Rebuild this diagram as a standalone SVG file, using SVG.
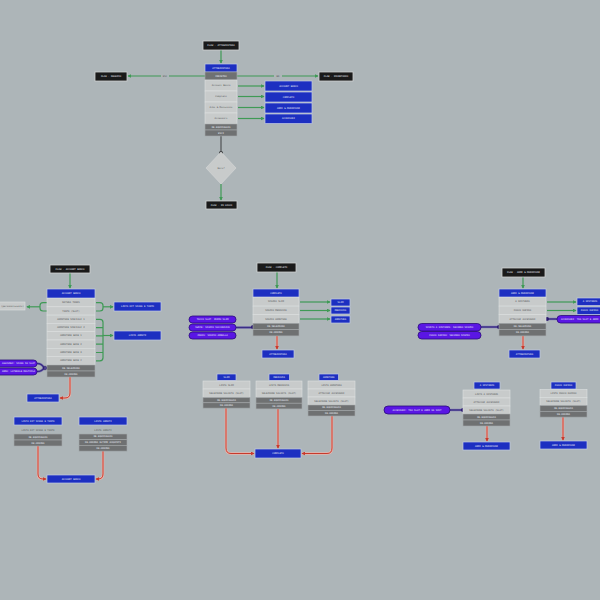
<svg xmlns="http://www.w3.org/2000/svg" width="600" height="600" viewBox="0 0 600 600">
<defs>
<marker id="ag" viewBox="0 0 6 6" refX="5" refY="3" markerWidth="4" markerHeight="4" markerUnits="userSpaceOnUse" orient="auto"><path d="M0,0 L6,3 L0,6 z" fill="#3f9a55"/></marker>
<marker id="ar" viewBox="0 0 6 6" refX="5" refY="3" markerWidth="4" markerHeight="4" markerUnits="userSpaceOnUse" orient="auto"><path d="M0,0 L6,3 L0,6 z" fill="#c83a2c"/></marker>
<style>
.flow{fill:#1a1a1a;stroke:#cfd2d3;stroke-width:0.8}
.blue{fill:#1d2fc1;stroke:#c0c9e4;stroke-width:0.7}
.lt{fill:#c8cbcb;stroke:#dde0e0;stroke-width:0.6}
.dk{fill:#6f7172;stroke:#a4a8aa;stroke-width:0.6}
.pill{fill:#5a16e4;stroke:#2a0c78;stroke-width:0.8}
.t{font-family:"DejaVu Sans Mono","Liberation Mono",monospace;font-size:2.8px;text-anchor:middle;dominant-baseline:central}
.s{font-size:2.4px}
.w{fill:#e9edf7}
.d{fill:#545657}
.g{fill:none;stroke:#3f9a55;stroke-width:1.2;marker-end:url(#ag)}
.g2{fill:none;stroke:#3f9a55;stroke-width:1.2}
.rh{fill:none;stroke:#e8b4ac;stroke-width:2.4}
.r{fill:none;stroke:#c83a2c;stroke-width:1;marker-end:url(#ar)}
.ph{fill:none;stroke:#8c88b8;stroke-width:2.6}
.p{fill:none;stroke:#3a2d86;stroke-width:1.5}
.dot{fill:#2c1a6e}
.lbl{fill:#adb5b8}
</style>
<path id="r1" d="M70,377 V393 Q70,398 65,398 H60"/>
<path id="r2" d="M38,446 V474 Q38,479 43,479 H46"/>
<path id="r3" d="M103,451 V474 Q103,479 98,479 H96"/>
<path id="r4" d="M277,336 V349"/>
<path id="r5" d="M226,408 V448 Q226,453.5 231,453.5 H254"/>
<path id="r6" d="M278,409 V448"/>
<path id="r7" d="M332,416 V448 Q332,453.5 327,453.5 H302"/>
<path id="r8" d="M523,336 V349"/>
<path id="r9" d="M487,426 V441"/>
<path id="r10" d="M563,417 V440"/>
</defs>
<rect width="600" height="600" fill="#adb5b8"/>

<g id="connectors">
<path class="g" d="M221,50 V63"/>
<path class="g" d="M205,76 H128"/>
<path class="g" d="M237,76 H318"/>
<rect class="lbl" x="161" y="73.5" width="8" height="5"/>
<text class="t s d" x="165" y="76">ESC</text>
<rect class="lbl" x="274" y="73.5" width="8" height="5"/>
<text class="t s d" x="278" y="76">BK</text>
<path class="g" d="M238,86 H264"/>
<path class="g" d="M238,96.5 H264"/>
<path class="g" d="M238,107.5 H264"/>
<path class="g" d="M238,118.5 H264"/>
<path d="M221,136 V152" stroke="#505254" stroke-width="1.2" fill="none"/>
<circle cx="221" cy="153" r="2" fill="#3c3e40"/>
<path class="g" d="M221,184 V200"/>

<path class="g" d="M70,273 V288"/>
<path class="g2" d="M96,302.6 H100 Q103,302.6 103,305.6 V308 Q103,311 100,311 H96"/>
<path class="g" d="M103,306.8 H113"/>
<path class="g2" d="M96,319.3 H100 Q103,319.3 103,322.3 V357.8 Q103,360.8 100,360.8 H96 M96,327.6 H103 M96,335.9 H103 M96,344.2 H103 M96,352.5 H103"/>
<path class="g" d="M103,335.5 H113"/>
<path class="g2" d="M47,302.6 H43 Q40,302.6 40,305.6 V308 Q40,311 43,311 H47"/>
<path class="g" d="M40,306.8 H27"/>

<path class="g" d="M277,272 V288"/>
<path class="g" d="M300,302 H330"/>
<path class="g" d="M300,310.5 H330"/>
<path class="g" d="M300,319 H330"/>

<path class="g" d="M523,277 V288"/>
<path class="g" d="M547,302 H576"/>
<path class="g" d="M547,310.5 H576"/>

<use href="#r1" class="rh"/><use href="#r1" class="r"/>
<use href="#r2" class="rh"/><use href="#r2" class="r"/>
<use href="#r3" class="rh"/><use href="#r3" class="r"/>
<use href="#r4" class="rh"/><use href="#r4" class="r"/>
<use href="#r5" class="rh"/><use href="#r5" class="r"/>
<use href="#r6" class="rh"/><use href="#r6" class="r"/>
<use href="#r7" class="rh"/><use href="#r7" class="r"/>
<use href="#r8" class="rh"/><use href="#r8" class="r"/>
<use href="#r9" class="rh"/><use href="#r9" class="r"/>
<use href="#r10" class="rh"/><use href="#r10" class="r"/>

<path class="ph" d="M37,363.5 Q42,363.5 44,368 M37,371.5 Q42,371.5 44,368 H47"/>
<path class="p" d="M37,363.5 Q42,363.5 44,368 M37,371.5 Q42,371.5 44,368 H47"/>
<circle cx="45" cy="368" r="1.8" fill="none" stroke="#2c1a6e" stroke-width="0.8"/>
<path class="ph" d="M236,327.5 H252"/><path class="p" d="M236,327.5 H252"/>
<circle class="dot" cx="253" cy="327" r="2"/>
<path class="ph" d="M547,319 H557"/><path class="p" d="M547,319 H557"/>
<circle class="dot" cx="547" cy="319" r="2"/>
<path class="ph" d="M481,327 H498"/><path class="p" d="M481,327 H498"/>
<circle class="dot" cx="499" cy="327" r="2"/>
<path class="ph" d="M450,410 H462"/><path class="p" d="M450,410 H462"/>
<circle class="dot" cx="463" cy="410" r="2"/>
</g>

<!-- top -->
<g id="flow-attrezzatura"><rect class="flow" x="203" y="41" width="36" height="9"/><text class="t s w" x="221" y="45.5">FLOW · ATTREZZATURA</text></g>
<g id="flow-negozio"><rect class="flow" x="95" y="72" width="32" height="9"/><text class="t s w" x="111" y="76.5">FLOW · NEGOZIO</text></g>
<g id="flow-inventario"><rect class="flow" x="319" y="72" width="34" height="9"/><text class="t s w" x="336" y="76.5">FLOW · INVENTARIO</text></g>
<g id="node-attrezzatura">
<rect class="blue" x="205" y="64" width="32" height="8"/><text class="t s w" x="221" y="68">ATTREZZATURA</text>
<rect class="dk" x="205" y="72" width="32" height="8"/><text class="t s w" x="221" y="76">INDIETRO</text>
<rect class="lt" x="205" y="80" width="32" height="11"/><text class="t s d" x="221" y="85.5">Account Banco</text>
<rect class="lt" x="205" y="91" width="32" height="11"/><text class="t s d" x="221" y="96.5">Completo</text>
<rect class="lt" x="205" y="102" width="32" height="11"/><text class="t s d" x="221" y="107.5">Armi &amp; Munizioni</text>
<rect class="lt" x="205" y="113" width="32" height="11"/><text class="t s d" x="221" y="118.5">Accessori</text>
<rect class="dk" x="205" y="124" width="32" height="6"/><text class="t s w" x="221" y="127">RE-EQUIPAGGIA</text>
<rect class="dk" x="205" y="130" width="32" height="6"/><text class="t s w" x="221" y="133">ESCI</text>
</g>
<g id="t-account"><rect class="blue" x="265" y="81" width="47" height="10"/><text class="t s w" x="288.5" y="86">ACCOUNT BANCO</text></g>
<g id="t-completo"><rect class="blue" x="265" y="92" width="47" height="10"/><text class="t s w" x="288.5" y="97">COMPLETO</text></g>
<g id="t-armi"><rect class="blue" x="265" y="103" width="47" height="10"/><text class="t s w" x="288.5" y="108">ARMI &amp; MUNIZIONI</text></g>
<g id="t-accessori"><rect class="blue" x="265" y="114" width="47" height="9.5"/><text class="t s w" x="288.5" y="118.8">ACCESSORI</text></g>
<g id="decision"><polygon points="221,152 236,168 221,184 206,168" fill="#c8cbcb" stroke="#d6d9d9" stroke-width="0.6"/><text class="t s d" x="221" y="168">Esci?</text></g>
<g id="flow-gioco"><rect class="flow" x="206" y="201" width="31" height="8"/><text class="t s w" x="221.5" y="205">FLOW · IN GIOCO</text></g>

<!-- left -->
<g id="flow-account"><rect class="flow" x="50" y="265" width="40" height="8"/><text class="t s w" x="70" y="269">FLOW · ACCOUNT BANCO</text></g>
<g id="node-account">
<rect class="blue" x="47" y="289" width="48" height="9"/><text class="t s w" x="71" y="293.5">ACCOUNT BANCO</text>
<rect class="lt" x="47" y="298.5" width="48" height="8.3"/><text class="t s d" x="71" y="302.6">NATURA TANKS</text>
<rect class="lt" x="47" y="306.8" width="48" height="8.3"/><text class="t s d" x="71" y="311">TANTO (SLOT)</text>
<rect class="lt" x="47" y="315.1" width="48" height="8.3"/><text class="t s d" x="71" y="319.3">ARMATURE SPECIALI 1</text>
<rect class="lt" x="47" y="323.4" width="48" height="8.3"/><text class="t s d" x="71" y="327.6">ARMATURE SPECIALI 2</text>
<rect class="lt" x="47" y="331.7" width="48" height="8.3"/><text class="t s d" x="71" y="335.9">ARMATURE BASE 1</text>
<rect class="lt" x="47" y="340" width="48" height="8.3"/><text class="t s d" x="71" y="344.2">ARMATURE BASE 2</text>
<rect class="lt" x="47" y="348.3" width="48" height="8.3"/><text class="t s d" x="71" y="352.5">ARMATURE BASE 3</text>
<rect class="lt" x="47" y="356.6" width="48" height="8.3"/><text class="t s d" x="71" y="360.8">ARMATURE BASE 4</text>
<rect class="dk" x="47" y="365" width="48" height="6"/><text class="t s w" x="71" y="368">RE-SELEZIONA</text>
<rect class="dk" x="47" y="371" width="48" height="6"/><text class="t s w" x="71" y="374">RE-ORDINA</text>
</g>
<g id="label-personal"><rect class="lt" x="-4" y="302" width="29" height="8"/><text class="t s d" x="24" y="306" style="text-anchor:end">(personalizzati)</text></g>
<g id="lista-kit"><rect class="blue" x="114" y="302" width="47" height="9"/><text class="t s w" x="137.5" y="306.5">LISTA KIT SPADA E TANTO</text></g>
<g id="lista-armati"><rect class="blue" x="114" y="331" width="47" height="9"/><text class="t s w" x="137.5" y="335.5">LISTA ARMATI</text></g>
<g id="pills-left">
<rect class="pill" x="-6" y="360" width="43" height="7" rx="3.5"/><text class="t s w" x="18.5" y="363.5">AGGIUNGI: SPADA SU SLOT</text>
<rect class="pill" x="-6" y="368" width="43" height="7" rx="3.5"/><text class="t s w" x="18.5" y="371.5">ARMA: LATERALE MULTIPLA</text>
</g>
<g id="l-attrezzatura"><rect class="blue" x="27" y="394" width="32" height="8"/><text class="t s w" x="43" y="398">ATTREZZATURA</text></g>
<g id="node-lista-kit">
<rect class="blue" x="14" y="417" width="48" height="8"/><text class="t s w" x="38" y="421">LISTA KIT SPADA E TANTO</text>
<text class="t s d" x="38" y="430">LISTA KIT SPADA E TANTO</text>
<rect class="dk" x="14" y="434" width="48" height="6"/><text class="t s w" x="38" y="437">RE-EQUIPAGGIA</text>
<rect class="dk" x="14" y="440" width="48" height="6"/><text class="t s w" x="38" y="443">RE-ORDINA</text>
</g>
<g id="node-lista-armati">
<rect class="blue" x="79" y="417" width="48" height="8"/><text class="t s w" x="103" y="421">LISTA ARMATI</text>
<text class="t s d" x="103" y="430.5">LISTA ARMATI</text>
<rect class="dk" x="79" y="434" width="48" height="5.7"/><text class="t s w" x="103" y="436.9">RE-EQUIPAGGIA</text>
<rect class="dk" x="79" y="439.7" width="48" height="5.7"/><text class="t s w" x="103" y="442.6">RE-ORDINA ULTIMI ACQUISTI</text>
<rect class="dk" x="79" y="445.4" width="48" height="5.7"/><text class="t s w" x="103" y="448.3">RE-ORDINA</text>
</g>
<g id="l-account"><rect class="blue" x="47" y="475" width="48" height="8"/><text class="t s w" x="71" y="479">ACCOUNT BANCO</text></g>

<!-- middle -->
<g id="flow-completo"><rect class="flow" x="257" y="263" width="39" height="9"/><text class="t s w" x="276.5" y="267.5">FLOW · COMPLETO</text></g>
<g id="node-completo">
<rect class="blue" x="253" y="289" width="46" height="8"/><text class="t s w" x="276" y="293">COMPLETO</text>
<rect class="lt" x="253" y="297.5" width="46" height="8.6"/><text class="t s d" x="276" y="301.8">SPAZIO SLIM</text>
<rect class="lt" x="253" y="306.1" width="46" height="8.6"/><text class="t s d" x="276" y="310.4">SPAZIO MEDIOVIA</text>
<rect class="lt" x="253" y="314.7" width="46" height="8.6"/><text class="t s d" x="276" y="319">SPAZIO ARMATURA</text>
<rect class="dk" x="253" y="323.3" width="46" height="6.3"/><text class="t s w" x="276" y="326.5">RE-SELEZIONA</text>
<rect class="dk" x="253" y="329.6" width="46" height="6.3"/><text class="t s w" x="276" y="332.8">RE-ORDINA</text>
</g>
<g id="m-slim"><rect class="blue" x="331" y="299" width="19" height="7"/><text class="t s w" x="340.5" y="302.5">SLIM</text></g>
<g id="m-mediovia"><rect class="blue" x="331" y="307" width="19" height="7"/><text class="t s w" x="340.5" y="310.5">MEDIOVIA</text></g>
<g id="m-armatura"><rect class="blue" x="331" y="316" width="19" height="7"/><text class="t s w" x="340.5" y="319.5">ARMATURA</text></g>
<g id="pills-mid">
<rect class="pill" x="189" y="316" width="47" height="7" rx="3.5"/><text class="t s w" x="212.5" y="319.5">TOCCO SLOT: PRIMO SLIM</text>
<rect class="pill" x="189" y="324" width="47" height="7" rx="3.5"/><text class="t s w" x="212.5" y="327.5">SWIPE: SPAZIO SUCCESSIVO</text>
<rect class="pill" x="189" y="332" width="47" height="7" rx="3.5"/><text class="t s w" x="212.5" y="335.5">PRESS: SPAZIO ANNULLA</text>
</g>
<g id="m-attrezzatura"><rect class="blue" x="262" y="350" width="32" height="8"/><text class="t s w" x="278" y="354">ATTREZZATURA</text></g>
<g id="node-slim">
<rect class="blue" x="217" y="374" width="19" height="6.5"/><text class="t s w" x="226.5" y="377.3">SLIM</text>
<rect class="lt" x="203" y="381" width="47" height="8"/><text class="t s d" x="226.5" y="385">LISTA SLIM</text>
<rect class="lt" x="203" y="389" width="47" height="8.5"/><text class="t s d" x="226.5" y="393.2">SELEZIONE SALVATA (SLOT)</text>
<rect class="dk" x="203" y="397.5" width="47" height="5.3"/><text class="t s w" x="226.5" y="400.2">RE-EQUIPAGGIA</text>
<rect class="dk" x="203" y="402.8" width="47" height="5.3"/><text class="t s w" x="226.5" y="405.5">RE-ORDINA</text>
</g>
<g id="node-mediovia">
<rect class="blue" x="269" y="374" width="20.5" height="6.5"/><text class="t s w" x="279.2" y="377.3">MEDIOVIA</text>
<rect class="lt" x="256" y="381" width="46" height="8"/><text class="t s d" x="279" y="385">LISTA MEDIOVIA</text>
<rect class="lt" x="256" y="389" width="46" height="8.5"/><text class="t s d" x="279" y="393.2">SELEZIONE SALVATA (SLOT)</text>
<rect class="dk" x="256" y="397.5" width="46" height="5.7"/><text class="t s w" x="279" y="400.4">RE-EQUIPAGGIA</text>
<rect class="dk" x="256" y="403.2" width="46" height="5.7"/><text class="t s w" x="279" y="406.1">RE-ORDINA</text>
</g>
<g id="node-armatura">
<rect class="blue" x="319" y="374" width="19.5" height="6.5"/><text class="t s w" x="328.8" y="377.3">ARMATURA</text>
<rect class="lt" x="308" y="381" width="47" height="8"/><text class="t s d" x="331.5" y="385">LISTA ARMATURA</text>
<rect class="lt" x="308" y="389" width="47" height="8"/><text class="t s d" x="331.5" y="393">ATTACCHI ACCESSORI</text>
<rect class="lt" x="308" y="397" width="47" height="8"/><text class="t s d" x="331.5" y="401">SELEZIONE SALVATA (SLOT)</text>
<rect class="dk" x="308" y="405" width="47" height="5.5"/><text class="t s w" x="331.5" y="407.8">RE-EQUIPAGGIA</text>
<rect class="dk" x="308" y="410.5" width="47" height="5.5"/><text class="t s w" x="331.5" y="413.3">RE-ORDINA</text>
</g>
<g id="m-completo"><rect class="blue" x="255" y="449" width="46" height="9"/><text class="t s w" x="278" y="453.5">COMPLETO</text></g>

<!-- right -->
<g id="flow-armi"><rect class="flow" x="502" y="268" width="43" height="9"/><text class="t s w" x="523.5" y="272.5">FLOW · ARMI &amp; MUNIZIONI</text></g>
<g id="node-armi">
<rect class="blue" x="499" y="289" width="47" height="8"/><text class="t s w" x="522.5" y="293">ARMI &amp; MUNIZIONI</text>
<rect class="lt" x="499" y="297.5" width="47" height="8.6"/><text class="t s d" x="522.5" y="301.8">A DISTANZA</text>
<rect class="lt" x="499" y="306.1" width="47" height="8.6"/><text class="t s d" x="522.5" y="310.4">FUOCO RAPIDO</text>
<rect class="lt" x="499" y="314.7" width="47" height="8.6"/><text class="t s d" x="522.5" y="319">ATTACCHI ACCESSORI</text>
<rect class="dk" x="499" y="323.3" width="47" height="6.3"/><text class="t s w" x="522.5" y="326.5">RE-SELEZIONA</text>
<rect class="dk" x="499" y="329.6" width="47" height="6.3"/><text class="t s w" x="522.5" y="332.8">RE-ORDINA</text>
</g>
<g id="r-distanza"><rect class="blue" x="577" y="298" width="30" height="7.5"/><text class="t s w" x="590" y="301.8">A DISTANZA</text></g>
<g id="r-fuoco"><rect class="blue" x="577" y="307" width="30" height="7.5"/><text class="t s w" x="589.5" y="310.8">FUOCO RAPIDO</text></g>
<g id="pill-right"><rect class="pill" x="557" y="315.5" width="50" height="7.5" rx="3.7"/><text class="t s w" x="561" y="319.3" style="text-anchor:start">ACCESSORI: TRA SLOT E ARMI</text></g>
<g id="pills-right">
<rect class="pill" x="418" y="323.5" width="63" height="7.5" rx="3.7"/><text class="t s w" x="449.5" y="327.3">SPOSTA A DISTANZA: SECONDO SPAZIO</text>
<rect class="pill" x="418" y="331.5" width="63" height="7.5" rx="3.7"/><text class="t s w" x="449.5" y="335.3">FUOCO RAPIDO: SECONDO SPAZIO</text>
</g>
<g id="r-attrezzatura"><rect class="blue" x="509" y="350" width="31" height="8"/><text class="t s w" x="524.5" y="354">ATTREZZATURA</text></g>
<g id="node-distanza">
<rect class="blue" x="474" y="382" width="26" height="7"/><text class="t s w" x="487" y="385.5">A DISTANZA</text>
<rect class="lt" x="463" y="390" width="47" height="8"/><text class="t s d" x="486.5" y="394">LISTA A DISTANZA</text>
<rect class="lt" x="463" y="398" width="47" height="8"/><text class="t s d" x="486.5" y="402">ATTACCHI ACCESSORI</text>
<rect class="lt" x="463" y="406" width="47" height="8"/><text class="t s d" x="486.5" y="410">SELEZIONE SALVATA (SLOT)</text>
<rect class="dk" x="463" y="414" width="47" height="6"/><text class="t s w" x="486.5" y="417">RE-EQUIPAGGIA</text>
<rect class="dk" x="463" y="420" width="47" height="6"/><text class="t s w" x="486.5" y="423">RE-ORDINA</text>
</g>
<g id="pill-distanza"><rect class="pill" x="384" y="406" width="66" height="8" rx="4"/><text class="t s w" x="417" y="410">ACCESSORI: TRA SLOT E ARMI DA SPOT</text></g>
<g id="r-armi1"><rect class="blue" x="463" y="442" width="47" height="8"/><text class="t s w" x="486.5" y="446">ARMI &amp; MUNIZIONI</text></g>
<g id="node-fuoco">
<rect class="blue" x="551" y="382" width="25" height="7"/><text class="t s w" x="563.5" y="385.5">FUOCO RAPIDO</text>
<rect class="lt" x="540" y="389.5" width="47" height="8"/><text class="t s d" x="563.5" y="393.5">LISTA FUOCO RAPIDO</text>
<rect class="lt" x="540" y="397.5" width="47" height="8"/><text class="t s d" x="563.5" y="401.5">SELEZIONE SALVATA (SLOT)</text>
<rect class="dk" x="540" y="405.5" width="47" height="5.8"/><text class="t s w" x="563.5" y="408.4">RE-EQUIPAGGIA</text>
<rect class="dk" x="540" y="411.3" width="47" height="5.8"/><text class="t s w" x="563.5" y="414.2">RE-ORDINA</text>
</g>
<g id="r-armi2"><rect class="blue" x="540" y="441" width="47" height="8"/><text class="t s w" x="563.5" y="445">ARMI &amp; MUNIZIONI</text></g>
</svg>
